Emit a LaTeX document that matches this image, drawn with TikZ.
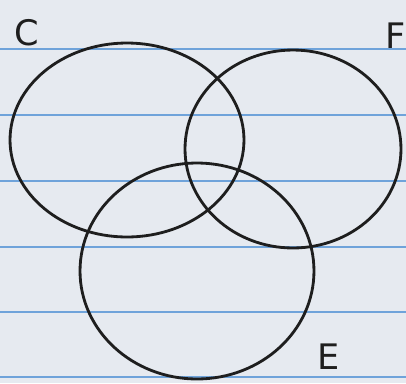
\documentclass[tikz,border=0pt]{standalone}
\usepackage{tikz}
\usetikzlibrary{shapes.geometric}
\usepackage{fontspec}
\setmainfont{DejaVu Sans}

\definecolor{PaperColor}{HTML}{E6EAF0}
\definecolor{RuleColor}{HTML}{6FA3DA}
\definecolor{InkColor}{HTML}{1E1E1E}

\begin{document}
\begin{tikzpicture}[x=0.02cm,y=-0.02cm,
    setline/.style={draw=InkColor,line width=1.6pt,ellipse,inner sep=0pt},
    setlabel/.style={text=InkColor,font=\fontsize{20}{20}\selectfont}]
  % ===== Papel =====
  \fill[PaperColor] (0,0) rectangle (406,383);
  \useasboundingbox (0,0) rectangle (406,383);

  % ===== Renglones =====
  \foreach \y in {49,115,181,247,312,377}{
    \draw[RuleColor,line width=0.8pt] (0,\y) -- (406,\y);
  }

  % ===== Conjuntos =====
  \node[setline,minimum width=4.68cm,minimum height=3.88cm] (setC) at (127,140) {};
  \node[setline,minimum width=4.32cm,minimum height=3.96cm] (setF) at (293,149) {};
  \node[setline,minimum width=4.68cm,minimum height=4.32cm] (setE) at (197,271) {};

  % ===== Etiquetas =====
  \node[setlabel] (lblC) at (27,33) {C};
  \node[setlabel] (lblF) at (396,36) {F};
  \node[setlabel] (lblE) at (329,357) {E};
\end{tikzpicture}
\end{document}
